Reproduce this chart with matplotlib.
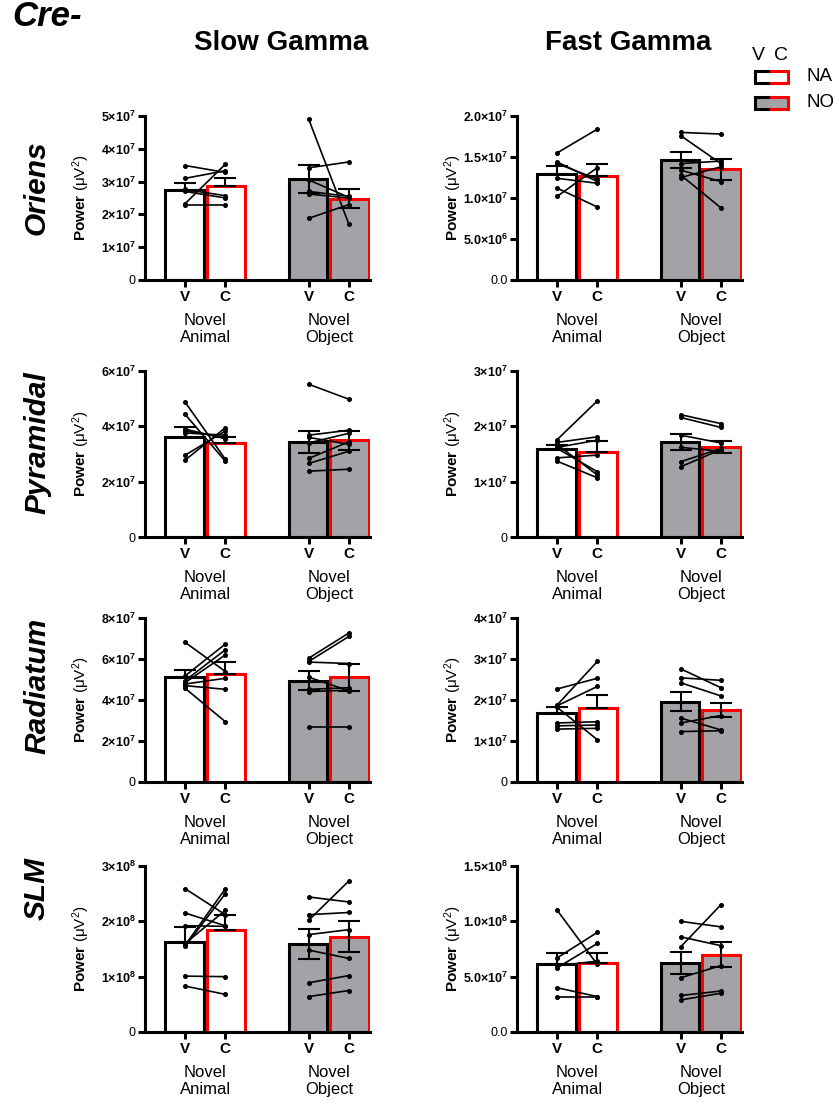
import numpy as np
import matplotlib
matplotlib.use('Agg')
import matplotlib.pyplot as plt
from matplotlib.lines import Line2D
from matplotlib.patches import Rectangle
from matplotlib.ticker import FuncFormatter

plt.rcParams['font.family'] = ['Liberation Sans', 'DejaVu Sans']
plt.rcParams['mathtext.fontset'] = 'custom'
plt.rcParams['mathtext.rm'] = 'Liberation Sans'
plt.rcParams['mathtext.bf'] = 'Liberation Sans:bold'
plt.rcParams['mathtext.it'] = 'Liberation Sans:italic'

layers = ['Oriens', 'Pyramidal', 'Radiatum', 'SLM']
bands = ['Slow Gamma', 'Fast Gamma']
groups = ['Novel\nAnimal', 'Novel\nObject']
conditions = ['V', 'C', 'V', 'C']

# all values in units of 1e7 uV^2, order: NA-V, NA-C, NO-V, NO-C
slow_mean = [[2.75, 2.86, 3.07, 2.48],
             [3.63, 3.41, 3.42, 3.49],
             [5.11, 5.27, 4.95, 5.11],
             [16.3, 18.4, 15.9, 17.2]]
slow_sem = [[0.21, 0.24, 0.43, 0.29],
            [0.33, 0.22, 0.40, 0.33],
            [0.33, 0.56, 0.47, 0.67],
            [2.7, 2.8, 2.7, 2.8]]
fast_mean = [[1.29, 1.27, 1.46, 1.35],
             [1.59, 1.53, 1.72, 1.63],
             [1.68, 1.81, 1.96, 1.75],
             [6.12, 6.21, 6.2, 7.0]]
fast_sem = [[0.10, 0.14, 0.10, 0.13],
            [0.08, 0.20, 0.15, 0.11],
            [0.16, 0.30, 0.24, 0.17],
            [1.0, 0.97, 1.0, 1.1]]

# individual animals (vehicle -> CNO)
slow_na_v = [[3.49, 3.10, 2.76, 2.70, 2.33, 2.28],
             [4.87, 4.43, 3.90, 3.76, 3.83, 2.96, 2.78],
             [6.81, 5.18, 4.95, 4.85, 4.78, 4.70, 4.57],
             [25.9, 21.5, 19.2, 15.7, 15.5, 16.0, 10.1, 8.3]]
slow_na_c = [[3.28, 3.33, 2.57, 2.50, 3.53, 2.28],
             [2.81, 2.74, 3.55, 3.68, 3.60, 3.83, 3.95],
             [5.39, 6.73, 6.45, 6.20, 5.06, 4.52, 2.94],
             [21.2, 19.2, 19.1, 25.9, 25.0, 22.0, 10.0, 6.8]]
slow_no_v = [[4.90, 3.42, 3.05, 2.70, 2.62, 1.88],
             [5.52, 3.68, 3.60, 3.40, 2.84, 2.66, 2.38],
             [6.04, 5.88, 5.85, 5.11, 4.52, 4.41, 2.69],
             [24.4, 21.2, 20.2, 17.6, 14.8, 8.9, 6.4]]
slow_no_c = [[1.70, 3.60, 2.52, 2.55, 2.50, 2.30],
             [4.98, 3.86, 3.35, 3.75, 3.44, 3.10, 2.45],
             [7.27, 7.10, 5.78, 4.45, 4.60, 4.48, 2.69],
             [23.5, 21.6, 27.3, 18.5, 13.3, 10.2, 7.5]]
fast_na_v = [[1.55, 1.44, 1.42, 1.24, 1.12, 1.02],
             [1.76, 1.71, 1.67, 1.60, 1.43, 1.37, 1.62],
             [2.27, 1.88, 1.86, 1.82, 1.44, 1.37, 1.29],
             [11.0, 6.7, 5.8, 6.0, 4.0, 3.2]]
fast_na_c = [[1.84, 1.20, 1.23, 1.18, 0.89, 1.37],
             [2.46, 1.81, 1.12, 1.18, 1.48, 1.07, 1.75],
             [2.53, 2.94, 2.33, 1.03, 1.47, 1.39, 1.31],
             [6.1, 9.0, 8.0, 6.4, 3.2, 3.2]]
fast_no_v = [[1.80, 1.76, 1.42, 1.34, 1.28, 1.25],
             [2.21, 2.16, 1.84, 1.62, 1.36, 1.27],
             [2.76, 2.54, 2.42, 1.56, 1.44, 1.23],
             [10.0, 8.6, 7.7, 4.9, 3.3, 2.9]]
fast_no_c = [[1.78, 1.42, 1.45, 1.20, 0.88, 1.38],
             [2.05, 1.98, 1.70, 1.55, 1.60, 1.58],
             [2.30, 2.48, 2.10, 1.27, 1.62, 1.25],
             [9.5, 7.8, 11.5, 6.0, 3.7, 3.5]]

slow_ymax = [5, 6, 8, 30]
slow_step = [1, 2, 2, 10]
fast_ymax = [2, 3, 4, 15]
fast_step = [0.5, 1, 1, 5]
slow_dec = [0, 0, 0, 0]
fast_dec = [1, 0, 0, 1]

W, H = 839, 1106
fig = plt.figure(figsize=(W / 100, H / 100), dpi=100)

col_x = [(145, 370), (517, 742)]
row_y = [(116, 280), (371, 537), (618, 782), (866, 1032)]
bar_x = [0, 1, 3.075, 4.075]
delta = 0.037
gray = '#a3a3a7'
lw = 2.2


def sci_fmt(dec):
    def f(v, pos):
        if v == 0:
            return '0' if dec == 0 else '0.' + '0' * dec
        val = v * 1e7
        e = int(np.floor(np.log10(val) + 1e-9))
        m = val / 10 ** e
        return r'$\mathbf{%s{\times}10^{%d}}$' % (f'{m:.{dec}f}', e)
    return f


for j in range(2):
    means = slow_mean if j == 0 else fast_mean
    sems = slow_sem if j == 0 else fast_sem
    na_v = slow_na_v if j == 0 else fast_na_v
    na_c = slow_na_c if j == 0 else fast_na_c
    no_v = slow_no_v if j == 0 else fast_no_v
    no_c = slow_no_c if j == 0 else fast_no_c
    ymax = slow_ymax if j == 0 else fast_ymax
    step = slow_step if j == 0 else fast_step
    dec = slow_dec if j == 0 else fast_dec
    for i in range(4):
        x0, x1 = col_x[j]
        y0, y1 = row_y[i]
        ax = fig.add_axes([x0 / W, 1 - y1 / H, (x1 - x0) / W, (y1 - y0) / H])

        for k in range(4):
            left = bar_x[k] - 0.5 + (delta if k % 2 else 0)
            ax.bar(left, means[i][k], width=1 - delta, align='edge',
                   color='white' if k < 2 else gray,
                   edgecolor='black' if k % 2 == 0 else 'red',
                   linewidth=lw, zorder=1)
            if k < 2:
                yerr = [[0], [sems[i][k]]]
            else:
                yerr = [[sems[i][k]], [sems[i][k]]]
            ax.errorbar(bar_x[k], means[i][k], yerr=yerr, fmt='none',
                        ecolor='black', elinewidth=1.5, capsize=8,
                        capthick=1.5, zorder=2)

        for v, c in zip(na_v[i], na_c[i]):
            ax.plot([bar_x[0], bar_x[1]], [v, c], '-', color='black',
                    marker='o', ms=2.6, lw=1.2, zorder=3, clip_on=False)
        for v, c in zip(no_v[i], no_c[i]):
            ax.plot([bar_x[2], bar_x[3]], [v, c], '-', color='black',
                    marker='o', ms=2.6, lw=1.2, zorder=3, clip_on=False)

        ax.set_xlim(-1.0, 4.6)
        ax.set_ylim(0, ymax[i])
        ax.set_yticks(np.arange(0, ymax[i] + step[i] / 2, step[i]))
        ax.yaxis.set_major_formatter(FuncFormatter(sci_fmt(dec[i])))
        ax.set_xticks(bar_x)
        ax.set_xticklabels(conditions, fontweight='bold', fontsize=11)
        for s in ['top', 'right']:
            ax.spines[s].set_visible(False)
        for s in ['left', 'bottom']:
            ax.spines[s].set_linewidth(lw)
        ax.tick_params(axis='x', length=5, width=lw, pad=2)
        ax.tick_params(axis='y', length=5, width=lw, pad=1.5, labelsize=9)

        for g, gx in enumerate([0.5, 3.575]):
            ax.annotate(groups[g], xy=(gx, 0), xycoords=('data', 'axes fraction'),
                        xytext=(0, -24), textcoords='offset points',
                        ha='center', va='top', fontsize=12, linespacing=1.15)

        ax.set_ylabel(r'$\mathbf{Power}$ (μV$^{2}$)', fontsize=11)
        ax.yaxis.set_label_coords(-0.235, 0.5)

# titles and row labels
fig.text(12 / W, 1 - 16 / H, 'Cre-', fontsize=25, fontweight='bold',
         style='italic', ha='left', va='center')
for j, cx in enumerate([281, 628]):
    fig.text(cx / W, 1 - 43 / H, bands[j], fontsize=20, fontweight='bold',
             ha='center', va='center')
for i, cy in enumerate([188, 443, 686, 888]):
    fig.text(37 / W, 1 - cy / H, layers[i], fontsize=21.5, fontweight='bold',
             style='italic', rotation=90, ha='center', va='center')

# legend
fig.text(758 / W, 1 - 56 / H, 'V', fontsize=14, ha='center', va='center')
fig.text(781 / W, 1 - 56 / H, 'C', fontsize=14, ha='center', va='center')
for name, ytop, fill in [('NA', 70.5, 'white'), ('NO', 96.5, gray)]:
    yb = ytop + 12
    xl, xm, xr = 754.5, 770.5, 787.5
    fig.add_artist(Rectangle((xl / W, 1 - yb / H), (xr - xl) / W, (yb - ytop) / H,
                             transform=fig.transFigure, facecolor=fill,
                             edgecolor='none'))
    fig.add_artist(Line2D([xm / W, xl / W, xl / W, xm / W],
                          [1 - ytop / H, 1 - ytop / H, 1 - yb / H, 1 - yb / H],
                          transform=fig.transFigure, color='black', lw=lw,
                          solid_joinstyle='miter'))
    fig.add_artist(Line2D([xm / W, xr / W, xr / W, xm / W],
                          [1 - ytop / H, 1 - ytop / H, 1 - yb / H, 1 - yb / H],
                          transform=fig.transFigure, color='red', lw=lw,
                          solid_joinstyle='miter'))
    fig.text(806 / W, 1 - (ytop + 6) / H, name, fontsize=13.5, ha='left',
             va='center')

fig.savefig('out.png', dpi=100)
